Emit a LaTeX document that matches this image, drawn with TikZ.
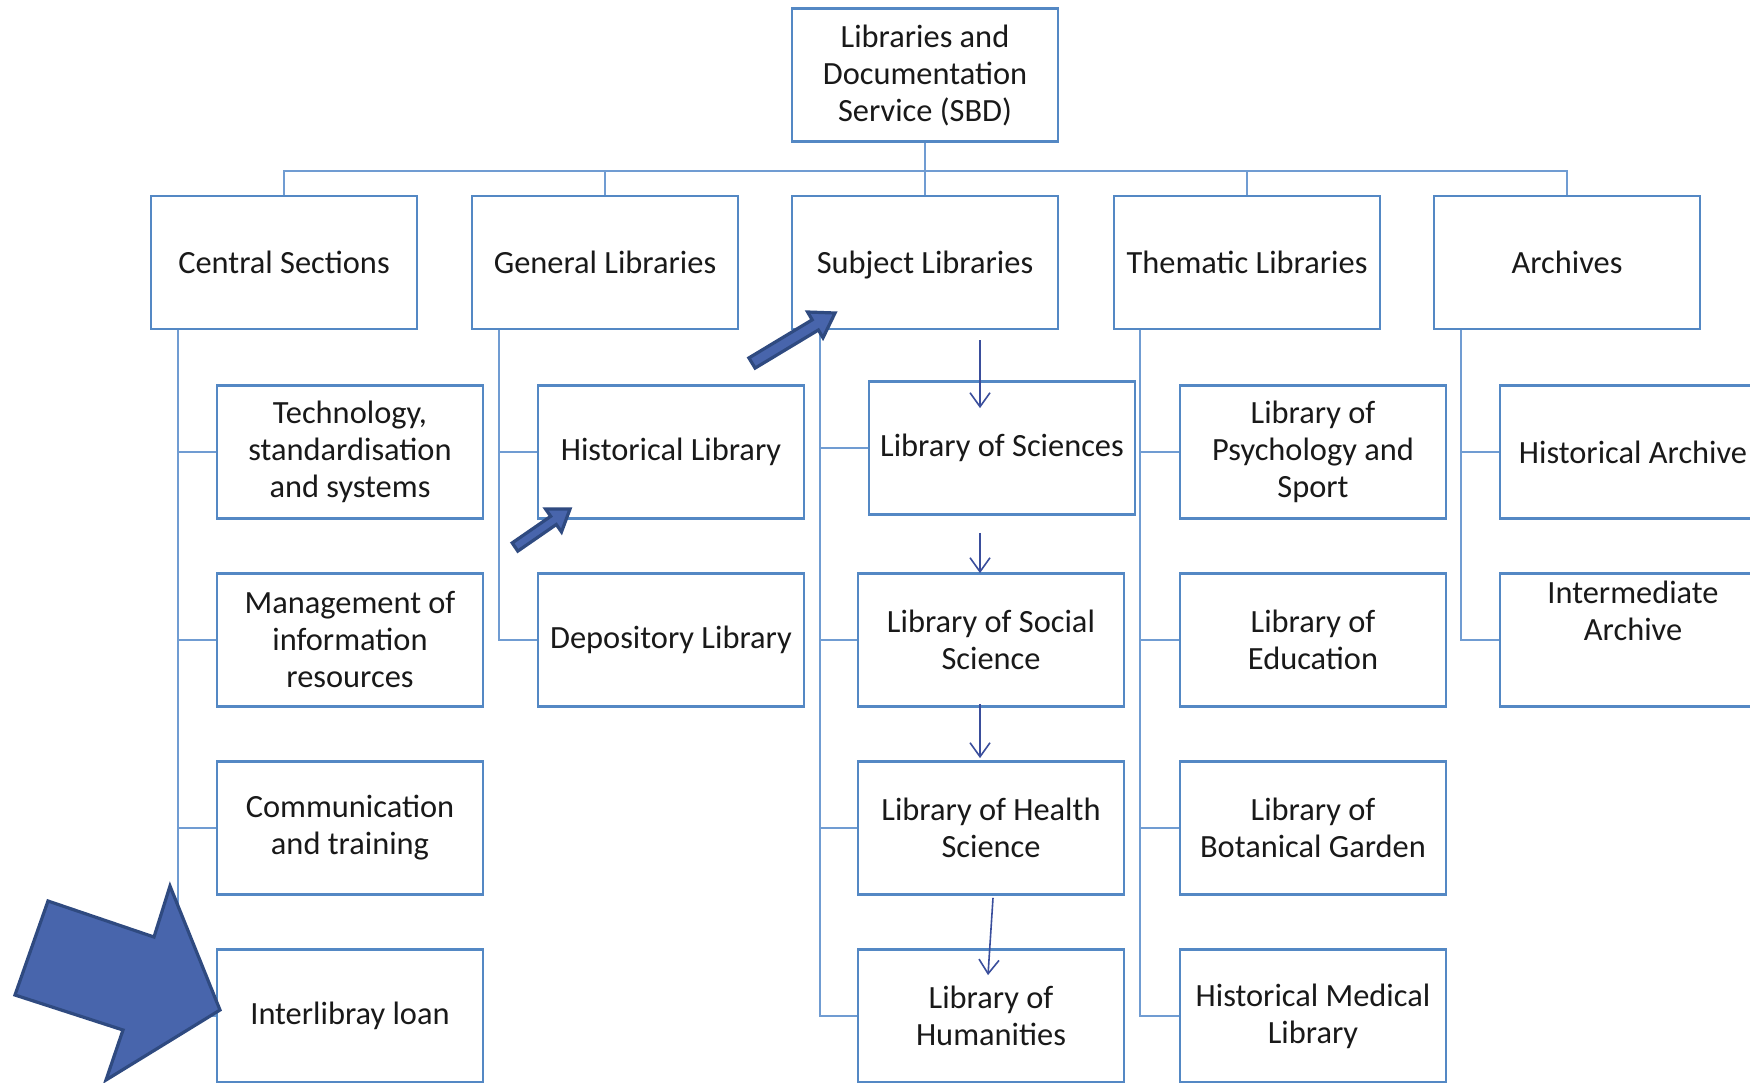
\documentclass[tikz,border=0pt]{standalone}
\usepackage{fontspec}
\setmainfont{Carlito}
\usetikzlibrary{positioning,arrows.meta}
\definecolor{boxblue}{RGB}{84,136,196}
\definecolor{lineblue}{RGB}{112,156,210}
\definecolor{arrowblue}{RGB}{58,78,156}
\definecolor{fillblue}{RGB}{72,101,172}
\definecolor{edgeblue}{RGB}{47,74,128}
\begin{document}
\begin{tikzpicture}[x=0.5pt,y=-0.5pt,
	box/.style={rectangle,draw=boxblue,line width=1.4pt,fill=white,minimum width=133pt,minimum height=66.5pt,inner sep=2pt,align=center,font=\fontsize{16.2}{18.5}\selectfont,text=black!90},
	link/.style={draw=lineblue,line width=0.9pt},
	flow/.style={draw=arrowblue,line width=0.8pt,-{Straight Barb[length=7pt,width=10pt]}},
	block/.style={fill=fillblue,draw=edgeblue,line width=1.6pt,line join=miter}]

			\useasboundingbox (0,0) rectangle (1750,1082);

			%root
			\node [box] (sbd) at (925,75) {Libraries and\\Documentation\\Service (SBD)};

			%second level
			\node [box] (cs) at (284,262.5) {Central Sections};
			\node [box] (gl) at (605,262.5) {General Libraries};
			\node [box, text depth=0pt] (sl) at (925,262.5) {Subject Libraries};
			\node [box] (tl) at (1247,262.5) {Thematic Libraries};
			\node [box] (ar) at (1567,262.5) {Archives};

			%central sections
			\node [box] (c1) at (350,452) {Technology,\\standardisation\\and systems};
			\node [box] (c2) at (350,640) {Management of\\information\\resources};
			\node [box] (c3) at (350,828) {Communication\\and training};
			\node [box] (c4) at (350,1016) {Interlibray loan};

			%general libraries
			\node [box] (g1) at (671,452) {Historical Library};
			\node [box] (g2) at (671,640) {Depository Library};

			%subject libraries
			\node [box] (s1) at (1002,448) {Library of Sciences};
			\node [box] (s2) at (991,640) {Library of Social\\Science};
			\node [box] (s3) at (991,828) {Library of Health\\Science};
			\node [box] (s4) at (991,1016) {Library of\\Humanities};

			%thematic libraries
			\node [box] (t1) at (1313,452) {Library of\\Psychology and\\Sport};
			\node [box] (t2) at (1313,640) {Library of\\Education};
			\node [box] (t3) at (1313,828) {Library of\\Botanical Garden};
			\node [box] (t4) at (1313,1016) {Historical Medical\\Library};

			%archives
			\node [box] (a1) at (1633,452) {Historical Archive};
			\node [box, text depth=29pt] (a2) at (1633,640) {Intermediate\\Archive};

			%edges from root
			\draw[link] (sbd.south) -- ++(0,28) -| (cs.north);
			\draw[link] (sbd.south) -- ++(0,28) -| (gl.north);
			\draw[link] (sbd.south) -- (sl.north);
			\draw[link] (sbd.south) -- ++(0,28) -| (tl.north);
			\draw[link] (sbd.south) -- ++(0,28) -| (ar.north);

			%edges to children
			\draw[link] ([xshift=14pt]cs.south west) |- (c1.west);
			\draw[link] ([xshift=14pt]cs.south west) |- (c2.west);
			\draw[link] ([xshift=14pt]cs.south west) |- (c3.west);
			\draw[link] ([xshift=14pt]cs.south west) |- (c4.west);
			\draw[link] ([xshift=14pt]gl.south west) |- (g1.west);
			\draw[link] ([xshift=14pt]gl.south west) |- (g2.west);
			\draw[link] ([xshift=14.5pt]sl.south west) |- (s1.west);
			\draw[link] ([xshift=14.5pt]sl.south west) |- (s2.west);
			\draw[link] ([xshift=14.5pt]sl.south west) |- (s3.west);
			\draw[link] ([xshift=14.5pt]sl.south west) |- (s4.west);
			\draw[link] ([xshift=13.5pt]tl.south west) |- (t1.west);
			\draw[link] ([xshift=13.5pt]tl.south west) |- (t2.west);
			\draw[link] ([xshift=13.5pt]tl.south west) |- (t3.west);
			\draw[link] ([xshift=13.5pt]tl.south west) |- (t4.west);
			\draw[link] ([xshift=14pt]ar.south west) |- (a1.west);
			\draw[link] ([xshift=14pt]ar.south west) |- (a2.west);

			%thin arrows
			\draw[flow] ([xshift=27.5pt,yshift=-5pt]sl.south) -- ([xshift=-11pt,yshift=-14pt]s1.north);
			\draw[flow] ([xshift=-11pt,yshift=-8.5pt]s1.south) -- ([xshift=-5.5pt,yshift=-0.5pt]s2.north);
			\draw[flow] ([xshift=-5.5pt,yshift=2pt]s2.south) -- ([xshift=-5.5pt,yshift=1pt]s3.north);
			\draw[flow] ([xshift=1pt,yshift=-1pt]s3.south) -- ([xshift=-1.5pt,yshift=-13.5pt]s4.north);

			%block arrows
			\draw[block] (748.9,357.9) -- (812.2,319.8) -- (807.6,312.0) -- (835,313) -- (823.0,337.8) -- (818.4,330.0) -- (755.1,368.1) -- cycle;
			\draw[block] (512.2,542.9) -- (550.7,516.3) -- (545.5,508.9) -- (570,509) -- (561.5,531.9) -- (556.3,524.5) -- (517.8,551.1) -- cycle;
			\draw[block] (15,995) -- (48,901) -- (154,937) -- (170,886) -- (220,1010) -- (106,1080) -- (123,1030) -- cycle;
		\end{tikzpicture}
\end{document}
